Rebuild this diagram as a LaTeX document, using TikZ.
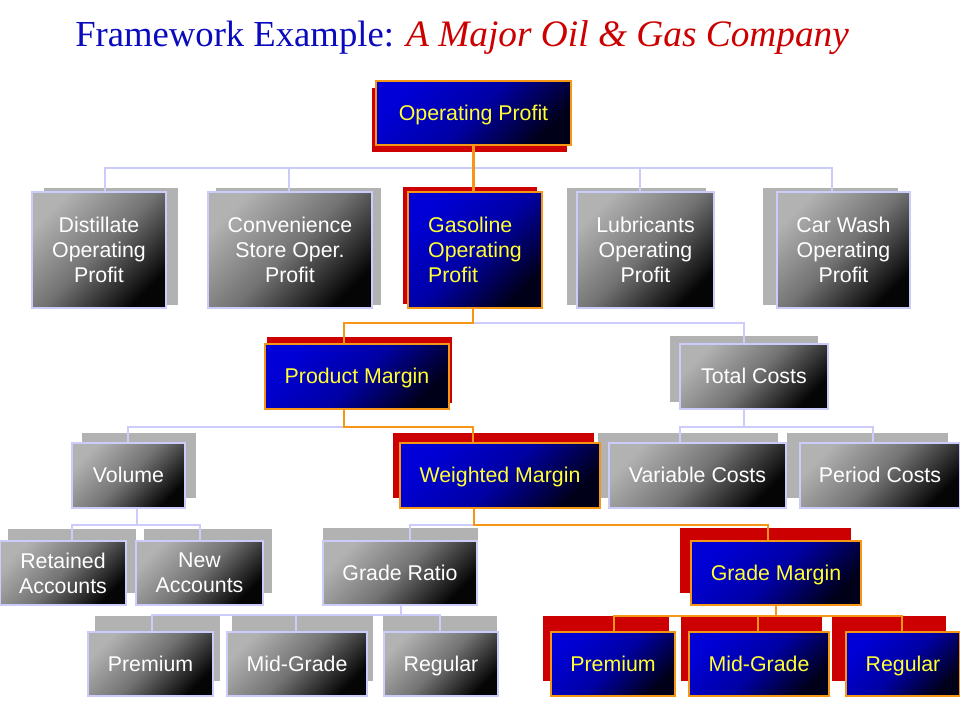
\documentclass[tikz,border=0pt]{standalone}
\usepackage{fontspec}
\setmainfont{Liberation Serif}
\newfontfamily\arialf{Liberation Sans}
\definecolor{lav}{RGB}{204,204,250}
\definecolor{org}{RGB}{245,150,20}
\definecolor{shred}{RGB}{204,0,0}
\definecolor{shgrey}{RGB}{178,178,178}
\definecolor{bluetop}{RGB}{0,0,215}
\definecolor{bluemid}{RGB}{0,0,165}
\definecolor{bluebot}{RGB}{0,0,25}
\definecolor{greytop}{RGB}{178,178,178}
\definecolor{greymid}{RGB}{115,115,115}
\definecolor{greybot}{RGB}{5,5,5}
\definecolor{txtyel}{RGB}{255,255,51}
\definecolor{tblue}{RGB}{10,10,190}
\definecolor{tred}{RGB}{204,0,0}
\pgfdeclarelayer{shadowlayer}
\pgfdeclarelayer{linelayer}
\pgfsetlayers{shadowlayer,linelayer,main}
\tikzset{
  boxbase/.style={rectangle, inner sep=0pt, outer sep=0pt,
    font=\arialf\fontsize{16}{18.75}\selectfont, align=center},
  bluebox/.style={boxbase, draw=org, line width=1pt,
    top color=bluetop, bottom color=bluebot, middle color=bluemid,
    shading angle=45, text=txtyel},
  greybox/.style={boxbase, draw=lav, line width=1pt,
    top color=greytop, bottom color=greybot, middle color=greymid,
    shading angle=45, text=white},
  oneline/.style={text height=14.5pt, text depth=3.4pt},
  redsh/.style={boxbase, fill=shred},
  greysh/.style={boxbase, fill=shgrey},
  lavline/.style={draw=lav, line width=2.2pt},
  orgline/.style={draw=org, line width=2.2pt},
}
\newcommand{\mybox}[7]{%
  \pgfmathsetmacro\myBW{(#5-#3)*0.75}%
  \pgfmathsetmacro\myBH{(#6-#4)*0.75}%
  \node[#2, minimum width=\myBW pt, minimum height=\myBH pt] (#1)
    at ({(#3+#5)/2},{(#4+#6)/2}) {#7};%
}
\begin{document}
\begin{tikzpicture}[x=0.75pt,y=-0.75pt]
\useasboundingbox (0,0) rectangle (960,720);
\begin{pgfonlayer}{shadowlayer}
\fill[white] (0,0) rectangle (960,720);
% shadows
\mybox{op-s}{redsh}{372}{88}{567}{152}{}
\mybox{dist-s}{greysh}{44}{188}{178}{305}{}
\mybox{conv-s}{greysh}{216}{188}{381}{305}{}
\mybox{gas-s}{redsh}{403}{187}{537}{304}{}
\mybox{lub-s}{greysh}{567}{188}{706}{305}{}
\mybox{car-s}{greysh}{763}{188}{898}{305}{}
\mybox{pm-s}{redsh}{267}{337}{452}{403}{}
\mybox{tc-s}{greysh}{670}{336}{818}{402}{}
\mybox{vol-s}{greysh}{82}{433}{196}{498}{}
\mybox{wm-s}{redsh}{393}{433}{594}{498}{}
\mybox{vc-s}{greysh}{598}{433}{778}{498}{}
\mybox{pc-s}{greysh}{787}{433}{948}{498}{}
\mybox{ra-s}{greysh}{8}{529}{136}{593}{}
\mybox{na-s}{greysh}{144}{529}{272}{593}{}
\mybox{gr-s}{greysh}{323}{528}{478}{593}{}
\mybox{gm-s}{redsh}{680}{528}{851}{593}{}
\mybox{p1-s}{greysh}{95}{616}{220}{681}{}
\mybox{m1-s}{greysh}{232}{616}{373}{681}{}
\mybox{r1-s}{greysh}{383}{616}{497}{681}{}
\mybox{p2-s}{redsh}{543}{616}{669}{681}{}
\mybox{m2-s}{redsh}{681}{616}{822}{681}{}
\mybox{r2-s}{redsh}{832}{616}{946}{681}{}
\end{pgfonlayer}

% title
\node[anchor=base west, inner sep=0pt] (title) at (75,47)
  {\fontsize{27.5}{32}\selectfont\textcolor{tblue}{Framework Example:}
   \fontsize{28}{32}\selectfont\textcolor{tred}{\itshape A Major Oil \& Gas Company}};

% junction coordinates
\coordinate (j1l) at (105,168);
\coordinate (j1c) at (289,168);
\coordinate (j1u) at (640,168);
\coordinate (j1r) at (832,168);
\coordinate (j2)  at (473,323);
\coordinate (j2l) at (344,323);
\coordinate (j2r) at (744,323);
\coordinate (j3)  at (344,427);
\coordinate (j3l) at (128,427);
\coordinate (j3r) at (473,427);
\coordinate (j3t) at (744,427);
\coordinate (j3a) at (680,427);
\coordinate (j3b) at (873,427);
\coordinate (j4v) at (137,525);
\coordinate (j4a) at (72,525);
\coordinate (j4b) at (200,525);
\coordinate (j4w) at (474,525);
\coordinate (j4g) at (410,525);
\coordinate (j4m) at (768,525);
\coordinate (j5)  at (401,615);
\coordinate (j5a) at (152,615);
\coordinate (j5b) at (296,615);
\coordinate (j5c) at (440,615);
\coordinate (j6)  at (776,616);
\coordinate (j6a) at (614,616);
\coordinate (j6b) at (758,616);
\coordinate (j6c) at (902,616);

% front boxes
\mybox{op}{bluebox,oneline}{376}{81}{571}{145}{Operating Profit}
\mybox{dist}{greybox}{32}{192}{166}{308}{Distillate\\Operating\\Profit}
\mybox{conv}{greybox}{208}{192}{372}{308}{Convenience\\Store Oper.\\Profit}
\mybox{gas}{bluebox,align=left}{408}{192}{542}{308}{Gasoline\\Operating\\Profit}
\mybox{lub}{greybox}{577}{192}{714}{308}{Lubricants\\Operating\\Profit}
\mybox{car}{greybox}{777}{192}{910}{308}{Car Wash\\Operating\\Profit}
\mybox{pm}{bluebox,oneline}{265}{344}{449}{409}{Product Margin}
\mybox{tc}{greybox,oneline}{680}{344}{828}{409}{Total Costs}
\mybox{vol}{greybox,oneline}{72}{443}{185}{508}{Volume}
\mybox{wm}{bluebox,oneline}{400}{443}{600}{508}{Weighted Margin}
\mybox{vc}{greybox,oneline}{609}{443}{786}{508}{Variable Costs}
\mybox{pc}{greybox,oneline}{800}{443}{960}{508}{Period Costs}
\mybox{ra}{greybox}{0}{541}{126}{605}{Retained\\Accounts}
\mybox{na}{greybox}{136}{541}{263}{605}{New\\Accounts}
\mybox{gr}{greybox,oneline}{323}{541}{477}{605}{Grade Ratio}
\mybox{gm}{bluebox,oneline}{691}{541}{861}{605}{Grade Margin}
\mybox{p1}{greybox,oneline}{88}{632}{213}{696}{Premium}
\mybox{m1}{greybox,oneline}{227}{632}{367}{696}{Mid-Grade}
\mybox{r1}{greybox,oneline}{384}{632}{498}{696}{Regular}
\mybox{p2}{bluebox,oneline}{551}{632}{675}{696}{Premium}
\mybox{m2}{bluebox,oneline}{689}{632}{829}{696}{Mid-Grade}
\mybox{r2}{bluebox,oneline}{846}{632}{960}{696}{Regular}

% connectors: over shadows, under front boxes
\begin{pgfonlayer}{linelayer}
\draw[lavline] (j1l |- dist.north) -- (j1l) -- (j1r) -- (j1r |- car.north);
\draw[lavline] (j1c) -- (j1c |- conv.north);
\draw[lavline] (j1u) -- (j1u |- lub.north);
\draw[orgline] (op.south) -- (op.south |- gas.north);

\draw[lavline] (j2) -- (j2r) -- (j2r |- tc.north);
\draw[orgline] (j2 |- gas.south) -- (j2) -- (j2l) -- (j2l |- pm.north);

\draw[lavline] (j3) -- (j3l) -- (j3l |- vol.north);
\draw[orgline] (j3 |- pm.south) -- (j3) -- (j3r) -- (j3r |- wm.north);
\draw[lavline] (j3t |- tc.south) -- (j3t);
\draw[lavline] (j3a |- vc.north) -- (j3a) -- (j3b) -- (j3b |- pc.north);

\draw[lavline] (j4v |- vol.south) -- (j4v);
\draw[lavline] (j4a |- ra.north) -- (j4a) -- (j4b) -- (j4b |- na.north);
\draw[lavline] (j4w) -- (j4g) -- (j4g |- gr.north);
\draw[orgline] (j4w |- wm.south) -- (j4w) -- (j4m) -- (j4m |- gm.north);

\draw[lavline] (j5 |- gr.south) -- (j5);
\draw[lavline] (j5a |- p1.north) -- (j5a) -- (j5c) -- (j5c |- r1.north);
\draw[lavline] (j5b) -- (j5b |- m1.north);

\draw[orgline] (j6 |- gm.south) -- (j6);
\draw[orgline] (j6a |- p2.north) -- (j6a) -- (j6c) -- (j6c |- r2.north);
\draw[orgline] (j6b) -- (j6b |- m2.north);
\end{pgfonlayer}
\end{tikzpicture}
\end{document}
